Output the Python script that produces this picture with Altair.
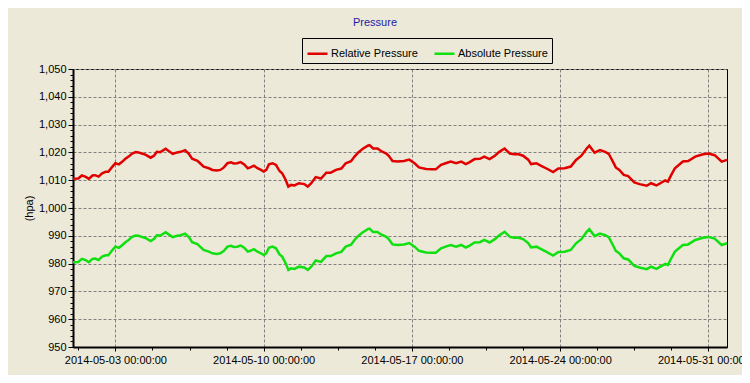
import altair as alt
import pandas as pd

# ---- data ----
hours = [0, 6, 10, 14, 18, 22, 25, 29, 33, 37, 40, 44, 48, 52, 56, 59, 63, 67, 71, 74,
         78, 82, 88, 92, 95, 99, 105, 108, 113, 118, 122, 127, 131, 135, 141, 144, 148, 154,
         158, 163, 167, 171, 175, 179, 182, 186, 190, 194, 198, 201, 205, 209, 213, 216,
         219, 222, 226, 230, 234, 237, 241, 244, 247, 251, 256, 262, 266, 270, 275, 281,
         287, 292, 298, 304, 309, 315, 319, 323, 328, 334, 336, 340, 345, 349, 355, 358,
         362, 368, 375, 381, 387, 392, 400, 406, 411, 417, 423, 428, 434, 440, 445, 449,
         455, 461, 466, 472, 478, 483, 489, 495, 500, 504, 510, 516, 519, 525, 531, 536,
         544, 550, 557, 564, 570, 576, 582, 585, 591, 597, 603, 607, 612, 615, 619, 624,
         629, 636, 642, 650, 655, 661, 671, 674, 678, 682, 691, 697, 705, 714, 720, 727,
         735, 741]

relative = [1010.5, 1010.6, 1011.7, 1011.3, 1010.5, 1011.7, 1011.8, 1011.3, 1012.5, 1013.0,
            1013.0, 1014.6, 1016.1, 1015.7, 1016.7, 1017.6, 1018.5, 1019.6, 1020.1, 1020.0,
            1019.6, 1019.2, 1018.1, 1018.9, 1020.2, 1020.1, 1021.3, 1020.6, 1019.5, 1020.0,
            1020.2, 1020.8, 1019.6, 1017.7, 1017.0, 1016.1, 1014.9, 1014.3, 1013.7, 1013.5,
            1013.7, 1014.6, 1016.1, 1016.4, 1016.0, 1016.1, 1016.5, 1015.7, 1014.3, 1014.6,
            1015.2, 1014.3, 1013.7, 1013.1, 1013.7, 1015.7, 1016.1, 1015.5, 1013.3, 1012.5,
            1010.1, 1007.7, 1008.3, 1008.1, 1008.9, 1008.6, 1007.7, 1008.9, 1011.1, 1010.6,
            1012.7, 1012.7, 1013.7, 1014.2, 1016.1, 1016.8, 1018.5, 1019.9, 1021.2, 1022.4,
            1022.6, 1021.4, 1021.4, 1020.5, 1019.6, 1018.7, 1016.9, 1016.7, 1016.9, 1017.4,
            1016.1, 1014.6, 1014.0, 1013.9, 1013.9, 1015.5, 1016.2, 1016.7, 1016.1, 1016.7,
            1015.8, 1016.4, 1017.6, 1017.7, 1018.5, 1017.6, 1018.8, 1020.2, 1021.4, 1019.6,
            1019.3, 1019.4, 1018.8, 1017.3, 1015.8, 1016.1, 1015.1, 1014.3, 1012.9, 1014.2,
            1014.3, 1014.9, 1017.3, 1018.8, 1021.4, 1022.4, 1019.9, 1020.8, 1020.2, 1019.5,
            1016.5, 1014.6, 1013.7, 1011.9, 1011.5, 1009.2, 1008.6, 1008.0, 1008.9, 1008.1,
            1009.9, 1009.5, 1012.0, 1014.3, 1016.7, 1016.9, 1018.5, 1019.3, 1019.6, 1019.0,
            1016.7, 1017.3]

absolute = [980.5, 980.6, 981.7, 981.3, 980.5, 981.7, 981.8, 981.3, 982.5, 983.0,
            983.0, 984.6, 986.1, 985.7, 986.7, 987.6, 988.5, 989.6, 990.1, 990.0,
            989.6, 989.2, 988.1, 988.9, 990.2, 990.1, 991.3, 990.6, 989.5, 990.0,
            990.2, 990.8, 989.6, 987.7, 987.0, 986.1, 984.9, 984.3, 983.7, 983.5,
            983.7, 984.6, 986.1, 986.4, 986.0, 986.1, 986.5, 985.7, 984.3, 984.6,
            985.2, 984.3, 983.7, 983.1, 983.7, 985.7, 986.1, 985.5, 983.3, 982.5,
            980.1, 977.7, 978.3, 978.1, 978.9, 978.6, 977.7, 978.9, 981.1, 980.6,
            982.7, 982.7, 983.7, 984.2, 986.1, 986.8, 988.5, 989.9, 991.2, 992.4,
            992.6, 991.4, 991.4, 990.5, 989.6, 988.7, 986.9, 986.7, 986.9, 987.4,
            986.1, 984.6, 984.0, 983.9, 983.9, 985.5, 986.2, 986.7, 986.1, 986.7,
            985.8, 986.4, 987.6, 987.7, 988.5, 987.6, 988.8, 990.2, 991.4, 989.6,
            989.3, 989.4, 988.8, 987.3, 985.8, 986.1, 985.1, 984.3, 982.9, 984.2,
            984.3, 984.9, 987.3, 988.8, 991.4, 992.4, 989.9, 990.8, 990.2, 989.5,
            986.5, 984.6, 983.7, 981.9, 981.5, 979.2, 978.6, 978.0, 978.9, 978.1,
            979.9, 979.5, 982.0, 984.3, 986.7, 986.9, 988.5, 989.3, 989.6, 989.0,
            986.7, 987.3]

series_names = ["Relative Pressure", "Absolute Pressure"]
series_colors = ["#e00000", "#10e010"]

# axis tick positions (major every 7 days, minor every 1.75 days)
x_tick_times = ["2014-05-01 06:00", "2014-05-03 00:00", "2014-05-04 18:00", "2014-05-06 12:00",
                "2014-05-08 06:00", "2014-05-10 00:00", "2014-05-11 18:00", "2014-05-13 12:00",
                "2014-05-15 06:00", "2014-05-17 00:00", "2014-05-18 18:00", "2014-05-20 12:00",
                "2014-05-22 06:00", "2014-05-24 00:00", "2014-05-25 18:00", "2014-05-27 12:00",
                "2014-05-29 06:00", "2014-05-31 00:00"]
y_tick_values = list(range(950, 1051, 2))

# ---- build table ----
start = pd.Timestamp("2014-05-01 00:00:00")
times = [start + pd.Timedelta(hours=h) for h in hours]
df = pd.DataFrame({
    "time": times + times,
    "value": relative + absolute,
    "series": [series_names[0]] * len(hours) + [series_names[1]] * len(hours),
})


def to_dt(ts):
    t = pd.Timestamp(ts)
    return alt.DateTime(year=t.year, month=t.month, date=t.day, hours=t.hour, minutes=t.minute)


x_domain = [to_dt(times[0]), to_dt(times[-1])]
x_values = [to_dt(s) for s in x_tick_times]

FONT = "Liberation Sans"
BG = "#ECE9D8"
GRID = "#808080"

x_major = "date(datum.value) % 7 === 3 && hours(datum.value) === 0"
y_major = "datum.value % 10 === 0"

x_axis = alt.Axis(
    values=x_values,
    title=None,
    labelExpr="(" + x_major + ") ? timeFormat(datum.value, '%Y-%m-%d %H:%M:%S') : ''",
    labelFont=FONT, labelFontSize=11, labelColor="black",
    labelFlush=False, labelOverlap=False, labelBound=False, labelPadding=3,
    grid=True, gridColor=GRID, gridDash=[3, 2], gridWidth=1,
    gridOpacity={"condition": {"test": x_major, "value": 1}, "value": 0},
    ticks=True, tickColor="black", tickWidth=1,
    tickSize={"condition": {"test": x_major, "value": 4}, "value": 3},
    domainColor="black", domainWidth=2,
)

y_axis = alt.Axis(
    values=y_tick_values,
    title="(hpa)",
    titleFont=FONT, titleFontSize=11, titleFontWeight="normal", titleColor="black",
    titlePadding=4,
    labelExpr="(" + y_major + ") ? format(datum.value, ',') : ''",
    labelFont=FONT, labelFontSize=11, labelColor="black",
    labelOverlap=False, labelFlush=False, labelPadding=2,
    grid=True, gridColor=GRID, gridDash=[3, 2], gridWidth=1,
    gridOpacity={"condition": {"test": y_major, "value": 1}, "value": 0},
    ticks=True, tickColor="black", tickWidth=1,
    tickSize={"condition": {"test": y_major, "value": 5}, "value": 3},
    domainColor="black", domainWidth=2,
)

legend = alt.Legend(
    title=None, orient="none", legendX=229, legendY=-31, direction="horizontal",
    symbolType="stroke", symbolSize=400, symbolStrokeWidth=2.5,
    labelFont=FONT, labelFontSize=11, labelColor="black", labelOffset=2,
    columnPadding=11, padding=4, strokeColor="black", fillColor=BG,
)

chart = alt.Chart(df).mark_line(strokeWidth=2.5).encode(
    x=alt.X("time:T", scale=alt.Scale(domain=x_domain, nice=False), axis=x_axis),
    y=alt.Y("value:Q", scale=alt.Scale(domain=[950, 1050], nice=False), axis=y_axis),
    color=alt.Color("series:N", scale=alt.Scale(domain=series_names, range=series_colors),
                    legend=legend),
).properties(
    width=654,
    height=278,
    title=alt.TitleParams(text="Pressure", color="#1a1aa6", font=FONT, fontSize=11,
                          fontWeight="normal", anchor="middle", dx=-25, offset=10),
    padding={"left": 65, "top": 61, "right": 15, "bottom": 28},
    autosize=alt.AutoSizeParams(type="none"),
).configure(
    background=BG,
).configure_view(
    fill=BG, stroke="black", strokeWidth=1,
)

chart.save("out.html", embed_options={"renderer": "svg", "actions": False})
